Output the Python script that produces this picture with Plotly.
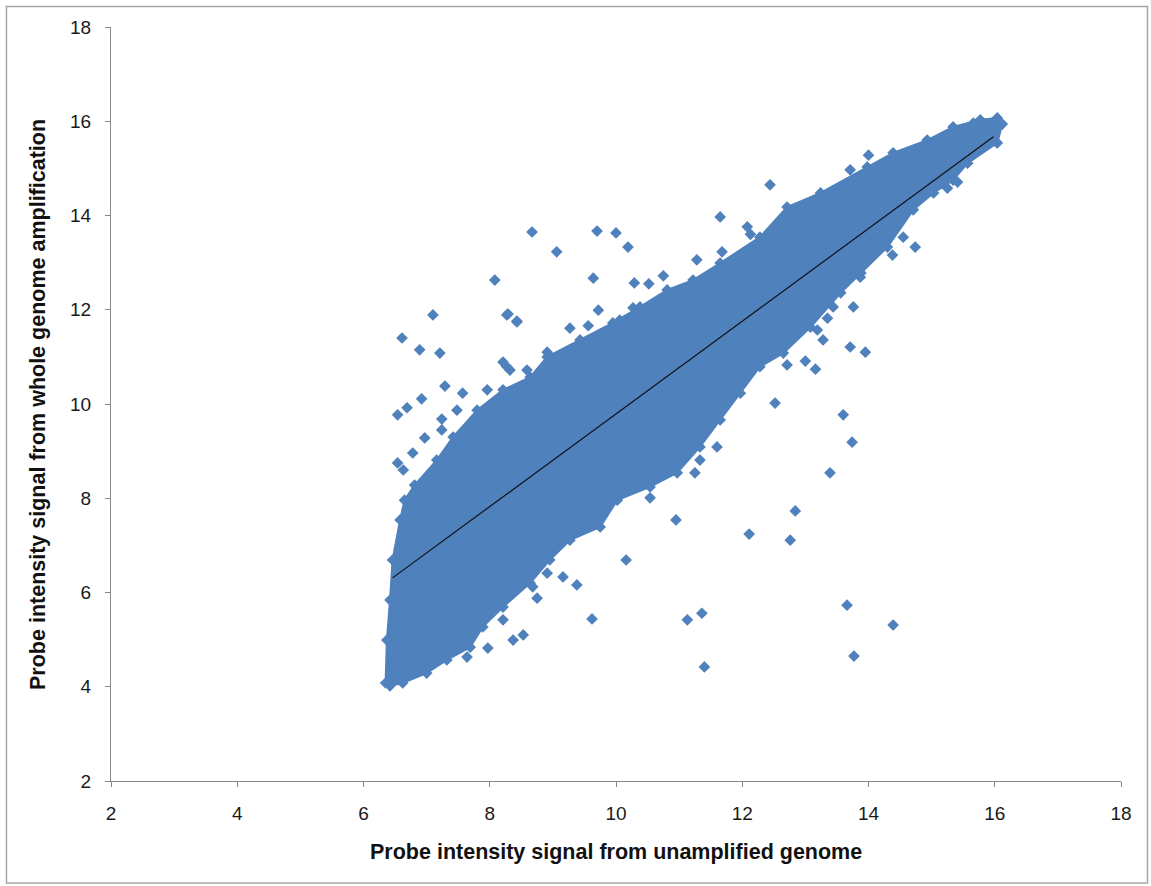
import plotly.graph_objects as go

# Outline of the dense probe cloud (upper edge left->right, lower edge right->left)
cloud_upper_x = [6.35, 6.37, 6.42, 6.46, 6.58, 6.65, 6.81, 7.16, 7.42, 7.80, 8.21, 8.64, 8.91, 9.43,
                 9.95, 10.38, 10.81, 11.22, 11.65, 12.28, 12.71, 13.24, 13.98, 14.39, 14.93, 15.34,
                 15.77, 16.04, 16.12]
cloud_upper_y = [4.08, 4.99, 5.84, 6.69, 7.54, 7.96, 8.28, 8.81, 9.30, 9.87, 10.30, 10.57, 11.00, 11.36,
                 11.72, 12.06, 12.42, 12.63, 12.99, 13.54, 14.18, 14.48, 15.03, 15.33, 15.60, 15.88,
                 16.03, 16.07, 15.94]
cloud_lower_x = [16.04, 15.57, 15.34, 15.03, 14.71, 14.30, 13.88, 13.56, 13.08, 12.65, 12.28, 11.97,
                 11.65, 11.33, 10.97, 10.54, 10.02, 9.75, 9.27, 8.95, 8.64, 8.21, 7.89, 7.69, 7.32,
                 7.00, 6.62, 6.42]
cloud_lower_y = [15.54, 15.11, 14.75, 14.48, 14.12, 13.33, 12.78, 12.36, 11.63, 11.08, 10.79, 10.23,
                 9.66, 9.09, 8.54, 8.24, 7.96, 7.39, 7.11, 6.69, 6.20, 5.69, 5.27, 4.84, 4.57,
                 4.29, 4.08, 4.02]

# Individual probes scattered outside the dense core
outlier_x = [7.10, 8.27, 8.43, 6.61, 6.89, 7.21, 7.29, 6.92, 6.69, 6.54, 6.97, 6.54, 6.58, 7.57,
             7.48, 7.24, 7.24, 6.78, 6.63, 7.96, 8.27, 8.59,
             8.67, 9.70, 10.00, 10.19, 9.06, 8.08, 9.64, 10.29, 10.52, 10.75, 11.28, 11.65, 11.68,
             8.29, 8.43, 9.72, 10.27, 9.27, 9.56, 10.06, 8.91, 8.21, 8.32,
             12.44, 13.71, 14.00, 12.08, 12.13, 14.55, 14.74, 14.38, 15.25, 15.41, 13.87, 13.76,
             13.44, 13.35, 13.19, 13.28, 13.71, 13.95, 13.00, 13.16, 12.71, 12.52, 13.60, 13.74,
             13.39, 11.60, 11.33,
             12.84, 12.76, 12.11, 10.95, 10.16, 9.38, 9.16, 9.62, 11.13, 11.36, 11.40, 11.25, 10.54,
             13.66, 14.39, 13.77,
             8.37, 8.53, 7.97, 7.64, 8.91, 8.68, 8.75, 8.21,
             15.98, 15.66, 16.03]
outlier_y = [11.89, 11.89, 11.76, 11.40, 11.15, 11.08, 10.38, 10.11, 9.92, 9.77, 9.28, 8.75, 6.86, 10.23,
             9.87, 9.68, 9.45, 8.96, 8.60, 10.30, 10.79, 10.72,
             13.65, 13.67, 13.63, 13.33, 13.23, 12.63, 12.67, 12.57, 12.55, 12.72, 13.06, 13.97, 13.23,
             11.91, 11.74, 11.99, 12.04, 11.61, 11.66, 11.78, 11.10, 10.89, 10.72,
             14.65, 14.97, 15.28, 13.76, 13.60, 13.54, 13.33, 13.16, 14.58, 14.71, 12.69, 12.06,
             12.06, 11.82, 11.57, 11.36, 11.21, 11.10, 10.91, 10.74, 10.83, 10.02, 9.77, 9.19,
             8.54, 9.09, 8.81,
             7.73, 7.11, 7.24, 7.54, 6.69, 6.16, 6.33, 5.44, 5.42, 5.56, 4.42, 8.54, 8.01,
             5.73, 5.31, 4.65,
             4.99, 5.10, 4.82, 4.63, 6.41, 6.12, 5.88, 5.42,
             15.98, 15.96, 15.55]

# Linear trend line end points
trend_x = [6.46, 15.98]
trend_y = [6.31, 15.67]

x_ticks = [2, 4, 6, 8, 10, 12, 14, 16, 18]
y_ticks = [2, 4, 6, 8, 10, 12, 14, 16, 18]

BLUE = "#4F81BD"
AXIS = "#868686"
FONT = "Liberation Sans, Arial, sans-serif"

cloud_x = cloud_upper_x + cloud_lower_x
cloud_y = cloud_upper_y + cloud_lower_y

fig = go.Figure()

fig.add_trace(go.Scatter(
    x=cloud_x + [cloud_x[0]], y=cloud_y + [cloud_y[0]],
    mode="lines", fill="toself", fillcolor=BLUE,
    line=dict(color=BLUE, width=2), hoverinfo="skip", showlegend=False,
))

fig.add_trace(go.Scatter(
    x=cloud_x + outlier_x, y=cloud_y + outlier_y,
    mode="markers",
    marker=dict(symbol="diamond", size=9, color=BLUE, line=dict(width=0)),
    showlegend=False,
))

fig.add_trace(go.Scatter(
    x=trend_x, y=trend_y, mode="lines",
    line=dict(color="#111111", width=1.2), showlegend=False,
))

axis_common = dict(
    showgrid=False, zeroline=False, showline=True, linecolor=AXIS, linewidth=1,
    ticks="outside", ticklen=5, tickcolor=AXIS, tickwidth=1,
    tickfont=dict(family=FONT, size=19, color="#1a1a1a"),
    range=[2, 18],
)

fig.update_xaxes(**axis_common, tickvals=x_ticks, ticklabelstandoff=10)
fig.update_yaxes(**axis_common, tickvals=y_ticks, ticklabelstandoff=10)

fig.update_layout(
    width=1151, height=886,
    margin=dict(l=111, r=30, t=27, b=105),
    paper_bgcolor="white", plot_bgcolor="white",
    showlegend=False,
    annotations=[
        dict(text="<b>Probe intensity signal from unamplified genome</b>",
             xref="paper", yref="paper", x=0.5, y=-0.094, xanchor="center", yanchor="middle",
             showarrow=False, font=dict(family=FONT, size=21.5, color="#111111")),
        dict(text="<b>Probe intensity signal from whole genome amplification</b>",
             xref="paper", yref="paper", x=-0.0723, y=0.5, xanchor="center", yanchor="middle",
             textangle=-90, showarrow=False, font=dict(family=FONT, size=21.5, color="#111111")),
    ],
    shapes=[
        dict(type="rect", xref="paper", yref="paper", x0=-0.1035, x1=1.0262, y0=-0.1353, y1=1.0272,
             line=dict(color="#A6A6A6", width=1.5), fillcolor="rgba(0,0,0,0)", layer="below"),
    ],
)

fig.write_html("out.html")
